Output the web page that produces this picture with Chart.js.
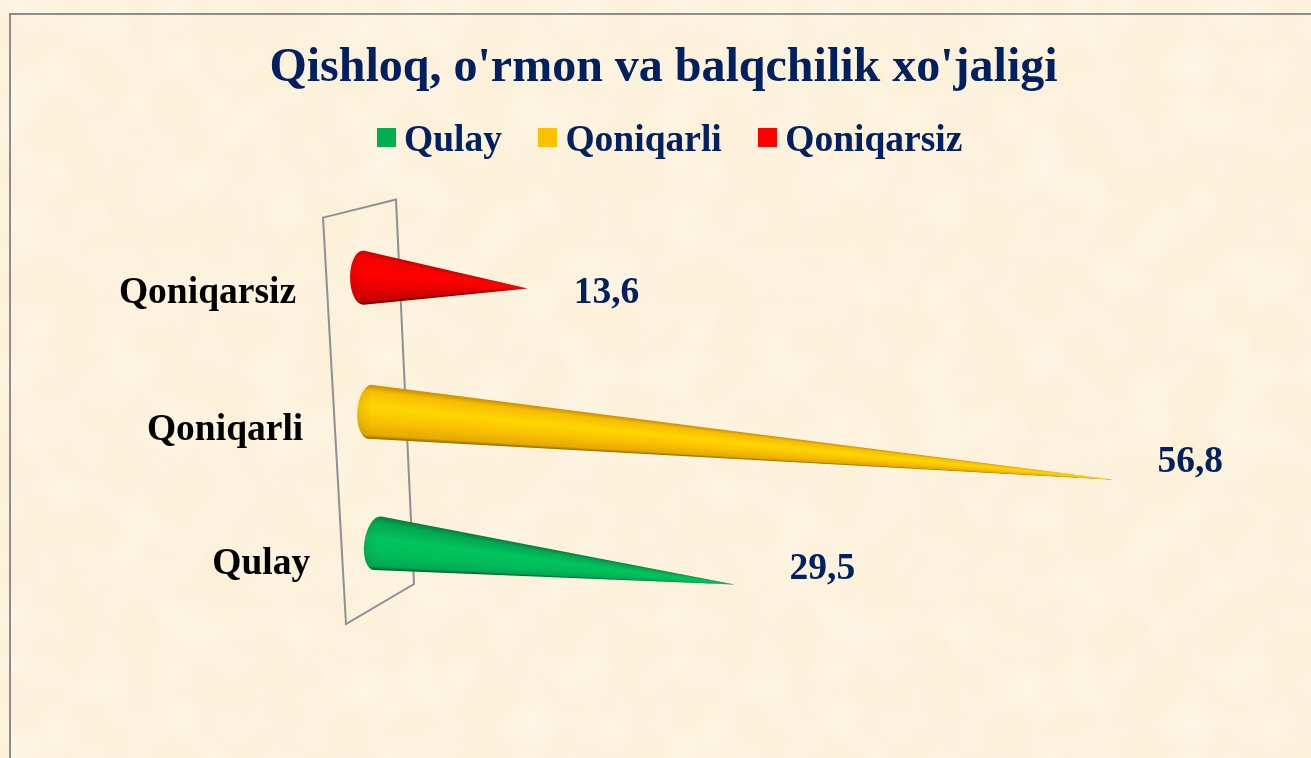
<!DOCTYPE html>
<html>
<head>
<meta charset="utf-8">
<title>Qishloq, o'rmon va balqchilik xo'jaligi</title>
<script src="https://cdn.jsdelivr.net/npm/chart.js@4"></script>
<style>
    html, body { margin: 0; width: 1311px; height: 758px; overflow: hidden; background-color: #fcf0d8; }
    #paper {
        position: absolute; inset: 0;
        background-image: url("data:image/svg+xml,%3Csvg xmlns='http://www.w3.org/2000/svg' width='660' height='660'%3E%3Cfilter id='n' x='0' y='0' width='100%25' height='100%25'%3E%3CfeTurbulence type='fractalNoise' baseFrequency='0.02' numOctaves='2' seed='7' stitchTiles='stitch'/%3E%3CfeColorMatrix values='0 0 0 0 1  0 0 0 0 0.97  0 0 0 0 0.90  0.9 0 0 0 -0.28'/%3E%3C/filter%3E%3Crect width='660' height='660' filter='url(%23n)'/%3E%3C/svg%3E");
    }
    #frame { position: absolute; left: 9px; top: 13px; right: -4px; bottom: -4px; border: 2px solid #8c8c8c; }
    canvas { position: absolute; left: 0; top: 0; }
</style>
</head>
<body>
<div id="paper"></div>
<div id="frame"></div>
<canvas id="coneChart" width="1311" height="758"></canvas>
<script>
const chartTitle = "Qishloq, o'rmon va balqchilik xo'jaligi";
const categories = ['Qulay', 'Qoniqarli', 'Qoniqarsiz'];
const values = [29.5, 56.8, 13.6];
const colors = ['#00B050', '#FFC000', '#FF0000'];

// Shading across each cone, from its lower edge to its upper edge
const shades = [
    ['#005a2e', '#00a852', '#00bd5a', '#00c45e', '#00a851', '#087a40'],
    ['#8f6800', '#e4a800', '#f8c000', '#ffd600', '#f8bc00', '#c48e00'],
    ['#6a0000', '#c80000', '#e80000', '#ff0000', '#f60000', '#c80000']
];
const shadeStops = [0, 0.07, 0.3, 0.6, 0.88, 1];

const serif = '"Liberation Serif", "Times New Roman", serif';
const navy = '#002060';
const labelFont = 'bold 37.5px ' + serif;

// The original is a 3D chart, so all lines run towards one vanishing point
const vanishing = { x: -5000, y: -78 };

function floorX(chart, px) {
    const left = chart.chartArea.left;
    const d = px - left;
    return left + 0.891 * d + 0.0001125 * d * d;
}

function wallY(chart, y) {
    const area = chart.chartArea;
    const t = (y - area.top) / (area.bottom - area.top);
    return y + 12 * t * (1 - t);
}

function coneGeometry(chart, el) {
    const cy = wallY(chart, el.y);
    const cx = chart.chartArea.left + 4 + 0.0536 * (cy - 277);
    const tipX = floorX(chart, el.x);
    const tipY = cy + (tipX - cx) * (cy - vanishing.y) / (cx - vanishing.x);
    const tilt = (cy - 277) * 0.00058 - 0.01;
    return { cx, cy, tipX, tipY, tilt, rx: 13, ry: 27 };
}

const wallPlugin = {
    id: 'wall',
    beforeDatasetsDraw(chart) {
        const ctx = chart.ctx;
        const { left, top, bottom } = chart.chartArea;
        ctx.save();
        ctx.strokeStyle = '#8d9095';
        ctx.lineWidth = 2;
        ctx.beginPath();
        ctx.moveTo(left - 36, top + 8);
        ctx.lineTo(left + 37, top - 10);
        ctx.lineTo(left + 55, bottom - 24);
        ctx.lineTo(left - 13, bottom + 16);
        ctx.closePath();
        ctx.stroke();
        ctx.restore();
    }
};

const conePlugin = {
    id: 'cones',
    afterDatasetsDraw(chart) {
        const ctx = chart.ctx;
        chart.getDatasetMeta(0).data.forEach((el, i) => {
            const g = coneGeometry(chart, el);
            const cos = Math.cos(-g.tilt), sin = Math.sin(-g.tilt);
            const dx = g.tipX - g.cx, dy = g.tipY - g.cy;
            const u = (dx * cos - dy * sin) / g.rx;
            const v = (dx * sin + dy * cos) / g.ry;
            const mid = Math.atan2(v, u);
            const spread = Math.acos(1 / Math.hypot(u, v));
            const lower = mid + spread, upper = mid - spread;

            const edgePoint = (theta) => {
                const ex = g.rx * Math.cos(theta), ey = g.ry * Math.sin(theta);
                return {
                    x: g.cx + ex * Math.cos(g.tilt) - ey * Math.sin(g.tilt),
                    y: g.cy + ex * Math.sin(g.tilt) + ey * Math.cos(g.tilt)
                };
            };
            const low = edgePoint(lower), up = edgePoint(upper);
            const angle = (p) => (Math.atan2(p.y - g.tipY, p.x - g.tipX) + 2 * Math.PI) % (2 * Math.PI);
            const startAngle = angle(low), span = angle(up) - startAngle;
            const pad = 0.02;

            // Conic gradient centred on the tip, so the shading narrows with the cone
            const fill = ctx.createConicGradient(startAngle - pad, g.tipX, g.tipY);
            shadeStops.forEach((t, k) => {
                fill.addColorStop((pad + t * span) / (2 * Math.PI), shades[i][k]);
            });
            fill.addColorStop(0, shades[i][0]);
            fill.addColorStop(1, shades[i][0]);

            ctx.save();
            ctx.beginPath();
            ctx.moveTo(g.tipX, g.tipY);
            ctx.lineTo(low.x, low.y);
            ctx.ellipse(g.cx, g.cy, g.rx, g.ry, g.tilt, lower, upper);
            ctx.closePath();
            ctx.fillStyle = fill;
            ctx.fill();
            ctx.clip();
            const rim = ctx.createLinearGradient(g.cx - g.rx, 0, g.cx + 2, 0);
            rim.addColorStop(0, 'rgba(60,30,0,0.1)');
            rim.addColorStop(1, 'rgba(60,30,0,0)');
            ctx.fillStyle = rim;
            ctx.fillRect(g.cx - g.rx - 2, g.cy - g.ry - 4, g.rx + 6, 2 * g.ry + 8);
            ctx.restore();
        });
    }
};

// Offsets of the value labels from the cone tips, and the category labels from the cone bases
const valueOffsets = [[55, -15], [43, -17], [46, 5]];
const categoryOffsets = [[-67, 21], [-67, 19], [-67, 16]];

const textPlugin = {
    id: 'coneText',
    afterDraw(chart) {
        const ctx = chart.ctx;
        const yScale = chart.scales.y;
        ctx.save();
        ctx.font = labelFont;
        ctx.textBaseline = 'middle';
        chart.getDatasetMeta(0).data.forEach((el, i) => {
            const g = coneGeometry(chart, el);
            ctx.fillStyle = navy;
            ctx.textAlign = 'left';
            ctx.fillText(String(values[i]).replace('.', ','), g.tipX + valueOffsets[i][0], g.tipY + valueOffsets[i][1]);
            ctx.fillStyle = '#000000';
            ctx.textAlign = 'right';
            ctx.fillText(yScale.getLabelForValue(i), g.cx + categoryOffsets[i][0], g.cy + categoryOffsets[i][1]);
        });

        // Legend is drawn here because the built-in one keeps a half font size gap after the box
        const boxSize = 19, boxGap = 8, itemGap = 36.5;
        let x = 377;
        ctx.textAlign = 'left';
        categories.forEach((name, i) => {
            ctx.fillStyle = colors[i];
            ctx.fillRect(Math.round(x), 128, boxSize, boxSize);
            ctx.fillStyle = navy;
            ctx.fillText(name, x + boxSize + boxGap, 141);
            x += boxSize + boxGap + ctx.measureText(name).width + itemGap;
        });
        ctx.restore();
    }
};

new Chart(document.getElementById('coneChart').getContext('2d'), {
    type: 'bar',
    data: {
        labels: categories,
        datasets: [{
            label: chartTitle,
            data: values,
            backgroundColor: 'rgba(0,0,0,0)',
            borderWidth: 0
        }]
    },
    options: {
        indexAxis: 'y',
        responsive: false,
        animation: false,
        layout: { padding: { left: 16, right: 0, top: 0, bottom: 150 } },
        plugins: {
            legend: { display: false },
            tooltip: { enabled: false },
            title: {
                display: true,
                text: chartTitle,
                color: navy,
                font: { family: serif, size: 48, weight: 'bold', lineHeight: 1.2 },
                padding: { top: 40, bottom: 112 }
            }
        },
        scales: {
            x: { display: false, min: 0, max: 70 },
            y: {
                reverse: true,
                grid: { display: false },
                border: { display: false },
                ticks: { display: false },
                afterFit(scale) { scale.width = 343; }
            }
        }
    },
    plugins: [wallPlugin, conePlugin, textPlugin]
});
</script>
</body>
</html>
